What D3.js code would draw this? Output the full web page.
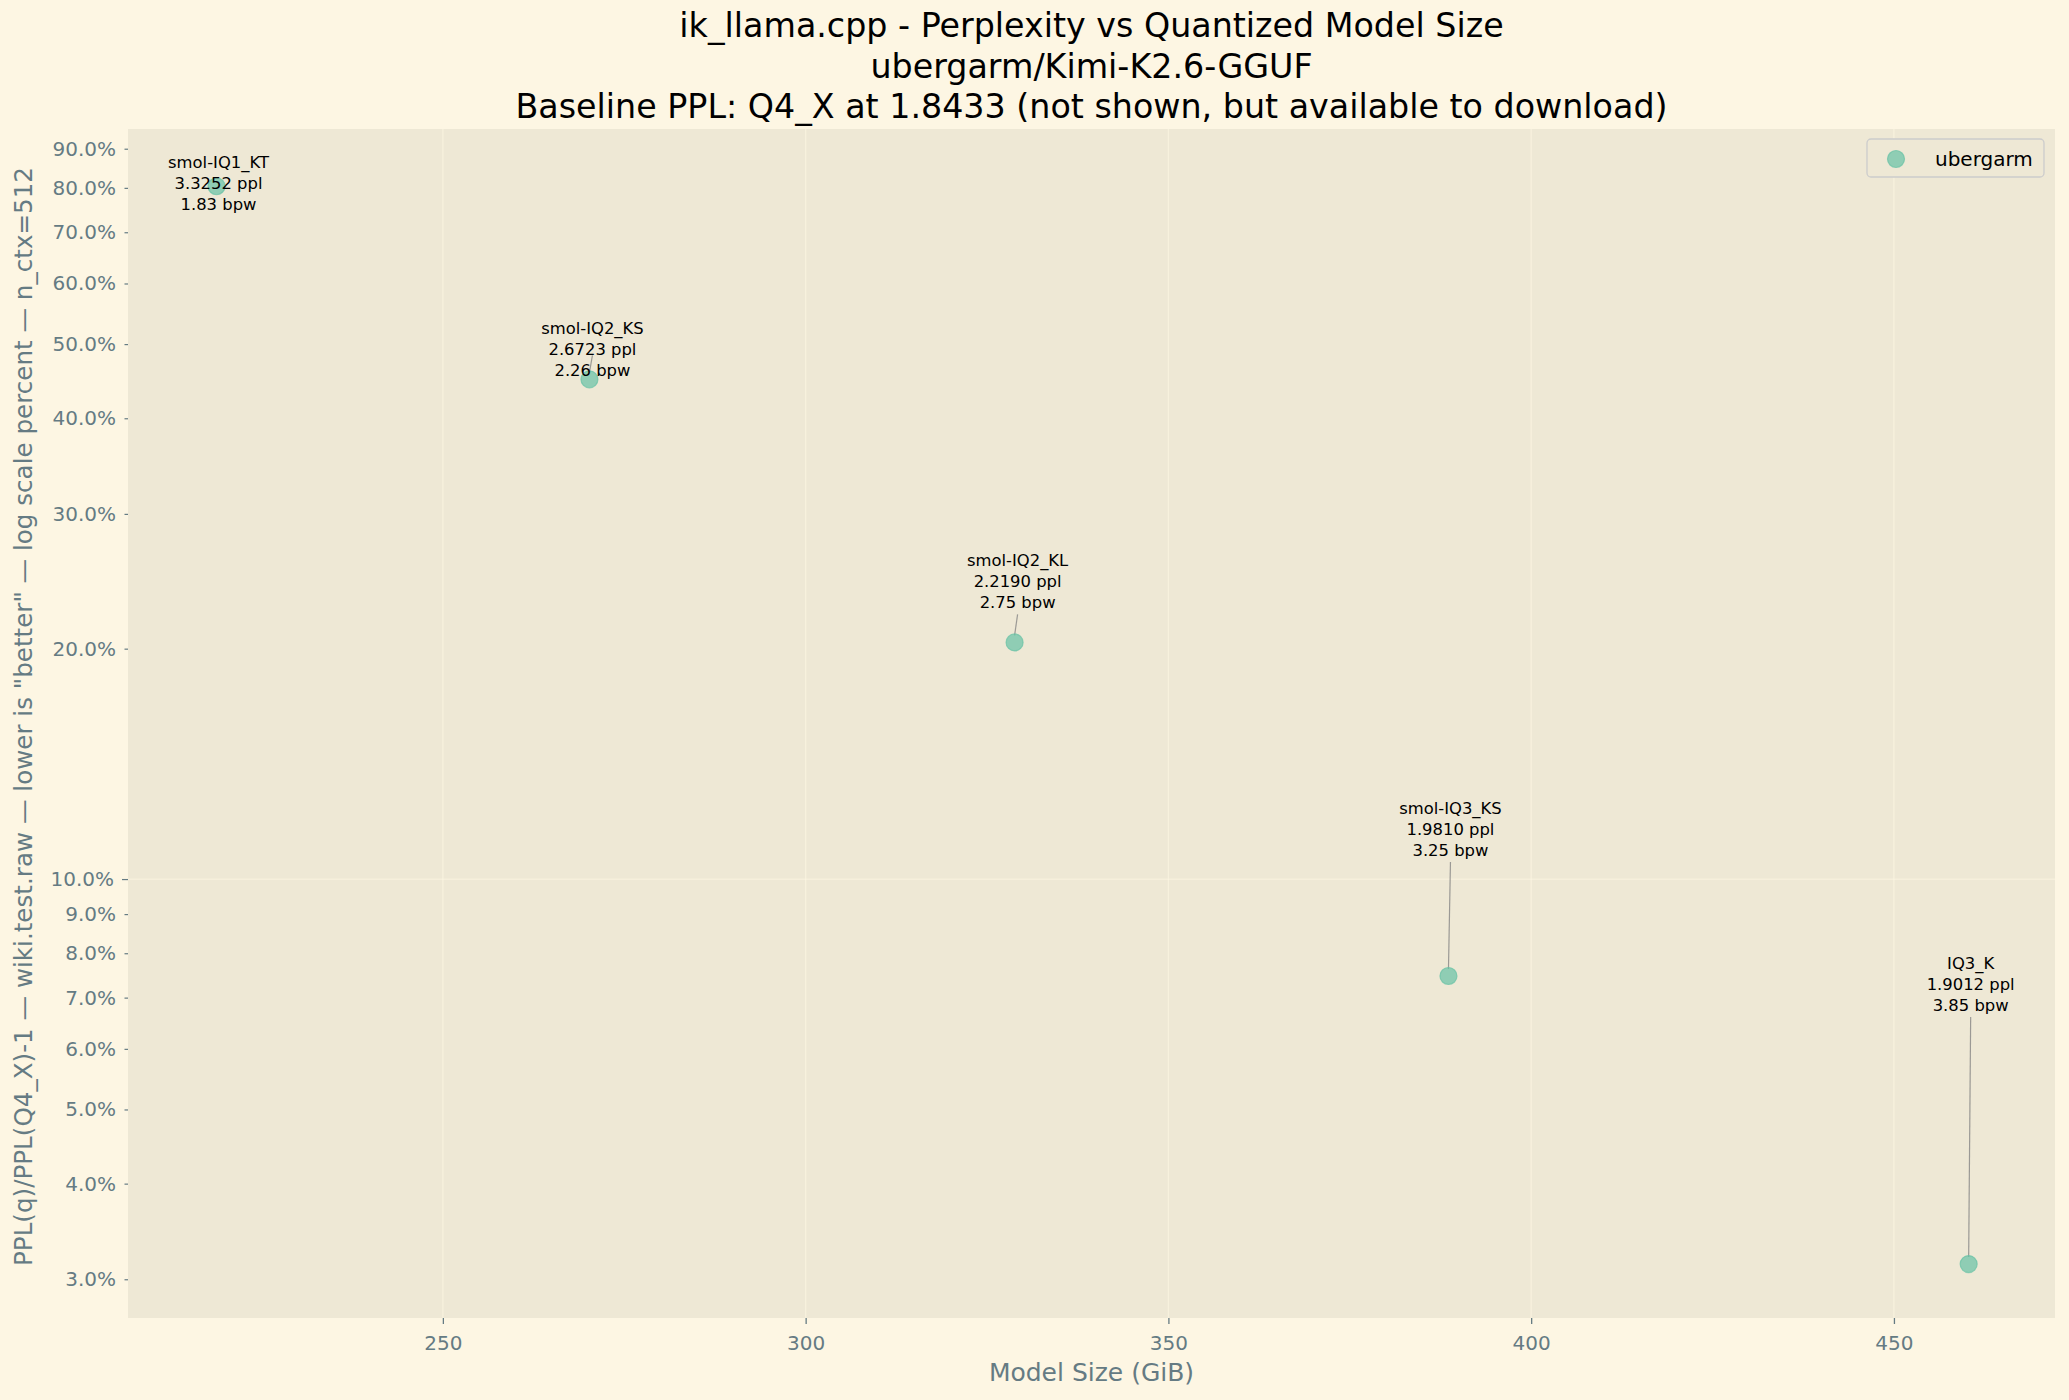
<!DOCTYPE html>
<html>
<head>
<meta charset="utf-8">
<script src="https://cdn.jsdelivr.net/npm/d3@7"></script>
<style>
  html, body { margin: 0; padding: 0; background: #fdf6e3; }
  svg { display: block; font-family: "DejaVu Sans", sans-serif; }
</style>
</head>
<body>
<div id="chart"></div>
<script>
// Chart data
const quantNames = ["smol-IQ1_KT", "smol-IQ2_KS", "smol-IQ2_KL", "smol-IQ3_KS", "IQ3_K"];
const pplValues = [3.3252, 2.6723, 2.2190, 1.9810, 1.9012];
const bpwValues = [1.83, 2.26, 2.75, 3.25, 3.85];
const sizeGiB = [218.8, 270.2, 328.8, 388.6, 460.3];
const pplDeltaPct = [80.39, 44.97, 20.38, 7.47, 3.14];
const seriesName = "ubergarm";

const xTicks = [250, 300, 350, 400, 450];
const yTicks = [3, 4, 5, 6, 7, 8, 9, 10, 20, 30, 40, 50, 60, 70, 80, 90];
const yMajor = [10];
const xLimits = [206.6, 472.2];
const yLimits = [2.67, 95.5];

const titleLines = [
    "ik_llama.cpp - Perplexity vs Quantized Model Size",
    "ubergarm/Kimi-K2.6-GGUF",
    "Baseline PPL: Q4_X at 1.8433 (not shown, but available to download)"
];
const xLabel = "Model Size (GiB)";
const yLabel = "PPL(q)/PPL(Q4_X)-1 \u2014 wiki.test.raw \u2014 lower is \"better\" \u2014 log scale percent \u2014 n_ctx=512";

// Where each annotation block sits relative to its point (px), as the label solver left it
const labelNudge = [[2, -3], [3, -30], [3, -61], [2, -147], [2, -280]];

// Set the dimensions and margins of the graph
const W = 2069, H = 1400;
const margin = { top: 129, right: 14, bottom: 82, left: 128 };
const width = W - margin.left - margin.right;
const height = H - margin.top - margin.bottom;

const textGrey = "#657b83";
const dotColor = "#66c2a5";

const data = quantNames.map((name, i) => ({
    name: name,
    ppl: pplValues[i],
    bpw: bpwValues[i],
    size: sizeGiB[i],
    pct: pplDeltaPct[i]
}));

const svg = d3.select("#chart")
    .append("svg")
    .attr("width", W)
    .attr("height", H);

svg.append("rect")
    .attr("width", W)
    .attr("height", H)
    .attr("fill", "#fdf6e3");

// Title, three lines
svg.append("g")
    .selectAll("text")
    .data(titleLines)
    .enter()
    .append("text")
    .attr("x", margin.left + width / 2)
    .attr("y", (d, i) => 37 + i * 40.5)
    .attr("text-anchor", "middle")
    .attr("font-size", 33.3)
    .attr("fill", "#000")
    .text(d => d);

const g = svg.append("g")
    .attr("transform", `translate(${margin.left},${margin.top})`);

g.append("rect")
    .attr("width", width)
    .attr("height", height)
    .attr("fill", "#eee8d5");

const x = d3.scaleLinear().domain(xLimits).range([0, width]);
const y = d3.scaleLog().domain(yLimits).range([height, 0]);

// Grid lines (major ticks only)
g.append("g")
    .selectAll("line")
    .data(xTicks)
    .enter()
    .append("line")
    .attr("x1", d => x(d)).attr("x2", d => x(d))
    .attr("y1", 0).attr("y2", height)
    .attr("stroke", "#fdf6e3")
    .attr("stroke-opacity", 0.6)
    .attr("stroke-width", 1.3);
g.append("g")
    .selectAll("line")
    .data(yMajor)
    .enter()
    .append("line")
    .attr("x1", 0).attr("x2", width)
    .attr("y1", d => y(d)).attr("y2", d => y(d))
    .attr("stroke", "#fdf6e3")
    .attr("stroke-opacity", 0.6)
    .attr("stroke-width", 1.3);

// X axis
const xAxis = g.append("g")
    .attr("transform", `translate(0,${height})`)
    .call(d3.axisBottom(x).tickValues(xTicks).tickSize(6).tickPadding(12).tickFormat(d3.format("d")));
xAxis.select(".domain").remove();
xAxis.selectAll("line").attr("stroke", textGrey).attr("stroke-width", 1.3);
xAxis.selectAll("text")
    .attr("fill", textGrey)
    .attr("font-size", 20)
    .attr("font-family", "DejaVu Sans");

// Y axis (log), minor ticks labelled too
const yAxis = g.append("g")
    .call(d3.axisLeft(y).tickValues(yTicks).tickSize(3.5).tickPadding(8.5)
        .tickFormat(d => d.toFixed(1) + "%"));
yAxis.select(".domain").remove();
yAxis.selectAll("line").attr("stroke", textGrey).attr("stroke-width", 1.2);
yAxis.selectAll("text")
    .attr("fill", textGrey)
    .attr("font-size", 20)
    .attr("font-family", "DejaVu Sans");
yAxis.selectAll(".tick")
    .filter(d => yMajor.includes(d))
    .call(t => {
        t.select("line").attr("x2", -6);
        t.select("text").attr("x", -14);
    });

// Axis labels
svg.append("text")
    .attr("text-anchor", "middle")
    .attr("x", margin.left + width / 2)
    .attr("y", 1381)
    .attr("font-size", 25)
    .attr("fill", textGrey)
    .text(xLabel);
svg.append("text")
    .attr("text-anchor", "middle")
    .attr("transform", `translate(32,${margin.top + height / 2 - 7}) rotate(-90)`)
    .attr("font-size", 24.6)
    .attr("fill", textGrey)
    .text(yLabel);

// Connector lines from the labels to the points
const lineH = 21;
const connectors = data.map((d, i) => {
    const px = x(d.size), py = y(d.pct);
    const cx = px + labelNudge[i][0], cy = py + labelNudge[i][1];
    let y1 = cy + lineH + 12;
    if (y1 > py - 9) y1 = cy + 6;
    return { x1: cx, y1: y1, x2: px, y2: py - 7 };
}).filter(c => c.y2 - c.y1 > 4);

g.append("g")
    .selectAll("line")
    .data(connectors)
    .enter()
    .append("line")
    .attr("x1", c => c.x1).attr("y1", c => c.y1)
    .attr("x2", c => c.x2).attr("y2", c => c.y2)
    .attr("stroke", "#7f7f7f")
    .attr("stroke-opacity", 0.75)
    .attr("stroke-width", 1.2);

// Add dots
g.append("g")
    .selectAll("circle")
    .data(data)
    .enter()
    .append("circle")
    .attr("cx", d => x(d.size))
    .attr("cy", d => y(d.pct))
    .attr("r", 8.5)
    .attr("fill", dotColor)
    .attr("fill-opacity", 0.7)
    .attr("stroke", dotColor)
    .attr("stroke-opacity", 0.7)
    .attr("stroke-width", 1.2);

// Annotation blocks: name, ppl, bpw
const labels = g.append("g")
    .selectAll("text")
    .data(data)
    .enter()
    .append("text")
    .attr("text-anchor", "middle")
    .attr("font-size", 16.4)
    .attr("fill", "#000");
labels.each(function (d, i) {
    const cx = x(d.size) + labelNudge[i][0];
    const cy = y(d.pct) + labelNudge[i][1];
    const rows = [d.name, d.ppl.toFixed(4) + " ppl", d.bpw.toFixed(2) + " bpw"];
    d3.select(this).selectAll("tspan")
        .data(rows)
        .enter()
        .append("tspan")
        .attr("x", cx)
        .attr("y", (r, k) => cy + (k - 1) * lineH + 6)
        .text(r => r);
});

// Legend
const legend = svg.append("g").attr("transform", "translate(1867,139)");
legend.append("rect")
    .attr("width", 177)
    .attr("height", 38)
    .attr("rx", 4)
    .attr("fill", "#eee8d5")
    .attr("stroke", "#cccccc")
    .attr("stroke-width", 1.3);
legend.append("circle")
    .attr("cx", 29)
    .attr("cy", 20)
    .attr("r", 8.5)
    .attr("fill", dotColor)
    .attr("fill-opacity", 0.7)
    .attr("stroke", dotColor)
    .attr("stroke-opacity", 0.7)
    .attr("stroke-width", 1.2);
legend.append("text")
    .attr("x", 68)
    .attr("y", 27)
    .attr("font-size", 20)
    .attr("fill", "#000")
    .text(seriesName);
</script>
</body>
</html>
